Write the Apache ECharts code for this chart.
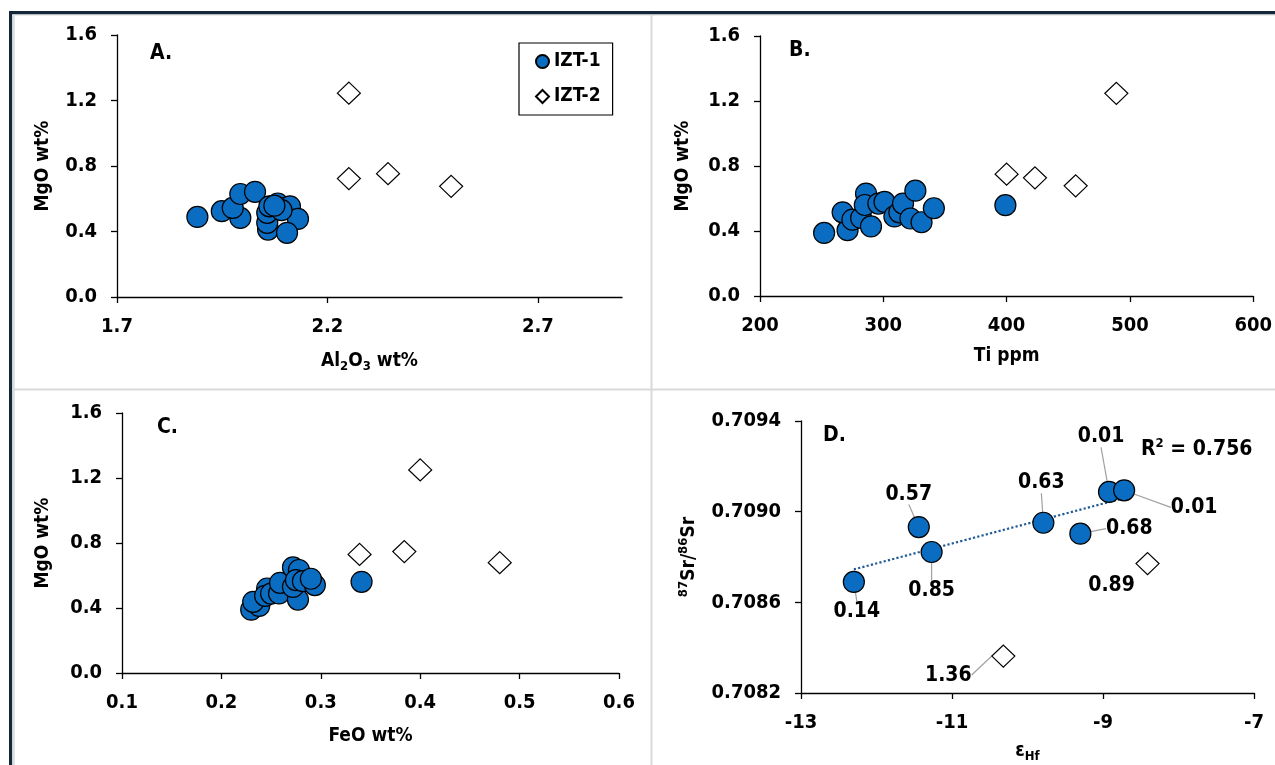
<!DOCTYPE html>
<html lang="en">
<head>
<meta charset="UTF-8">
<title>IZT-1 / IZT-2 scatter panels</title>
<style>
  html, body { margin: 0; padding: 0; background: #fff; }
  #main { width: 1275px; height: 765px; }
</style>
</head>
<body>
<div id="main"></div>
<script src="https://cdn.jsdelivr.net/npm/echarts@6/dist/echarts.min.js"></script>
<script>
// ---- data ----
// A. Al2O3 vs MgO
var aIzt1Al2O3 = [1.891, 1.949, 1.993, 1.975, 1.993, 2.028, 2.059, 2.057, 2.057, 2.062, 2.082, 2.101, 2.111, 2.130, 2.104, 2.091, 2.074];
var aIzt1MgO   = [0.489, 0.524, 0.483, 0.544, 0.629, 0.642, 0.412, 0.453, 0.514, 0.554, 0.571, 0.544, 0.554, 0.477, 0.392, 0.530, 0.558];
var aIzt2Al2O3 = [2.251, 2.251, 2.344, 2.494];
var aIzt2MgO   = [1.245, 0.723, 0.753, 0.676];

// B. Ti vs MgO
var bIzt1Ti  = [252, 271, 267, 275, 282, 286, 285, 290, 296, 301, 309, 313, 316, 322, 326, 331, 341, 399];
var bIzt1MgO = [0.388, 0.405, 0.515, 0.470, 0.480, 0.630, 0.560, 0.428, 0.569, 0.579, 0.490, 0.515, 0.569, 0.477, 0.648, 0.454, 0.540, 0.559];
var bIzt2Ti  = [400, 423, 456, 489];
var bIzt2MgO = [0.750, 0.727, 0.678, 1.247];

// C. FeO vs MgO
var cIzt1FeO = [0.230, 0.238, 0.232, 0.246, 0.244, 0.250, 0.258, 0.259, 0.272, 0.278, 0.277, 0.272, 0.275, 0.282, 0.294, 0.290, 0.341];
var cIzt1MgO = [0.390, 0.413, 0.438, 0.520, 0.475, 0.489, 0.490, 0.555, 0.650, 0.634, 0.452, 0.530, 0.572, 0.565, 0.541, 0.580, 0.561];
var cIzt2FeO = [0.339, 0.384, 0.400, 0.480];
var cIzt2MgO = [0.730, 0.747, 1.250, 0.679];

// D. eHf vs 87Sr/86Sr, with point annotations
var dIzt1Hf = [-12.30, -11.44, -11.27, -9.79, -9.30, -8.92, -8.72];
var dIzt1Sr = [0.708690, 0.708932, 0.708822, 0.708951, 0.708903, 0.709087, 0.709094];
var dIzt1Labels = ['0.14', '0.57', '0.85', '0.63', '0.68', '0.01', '0.01'];
var dIzt2Hf = [-8.41, -10.32];
var dIzt2Sr = [0.708771, 0.708363];
var dIzt2Labels = ['0.89', '1.36'];
var dR2Text = '0.756';

// tick labels
var mgoTicks = [0, 0.4, 0.8, 1.2, 1.6];
var al2o3Ticks = [1.7, 2.2, 2.7];
var tiTicks = [200, 300, 400, 500, 600];
var feoTicks = [0.1, 0.2, 0.3, 0.4, 0.5, 0.6];
var hfTicks = [-13, -11, -9, -7];
var srTicks = [0.7082, 0.7086, 0.7090, 0.7094];

// label offsets (px) for panel D annotations, and whether a leader line is drawn
var dShift1 = [[3, 30], [-10, -33], [0, 39], [-2, -40], [49, -5], [-8, -55], [70, 17]];
var dShift2 = [[-36, 22], [-55, 19]];
var dLine2 = [false, true];

var FONT = "'Liberation Sans Narrow', 'Arial Narrow', 'DejaVu Sans Condensed', sans-serif";
var BLUE = { color: '#0b6dc2', borderColor: '#000', borderWidth: 1.2, opacity: 1 };
var WHITE = { color: '#fff', borderColor: '#000', borderWidth: 1.2, opacity: 1 };

function tok(size, extra) {
  var t = { fontFamily: FONT, fontWeight: 'bold', fontSize: size, color: '#000' };
  for (var k in extra) t[k] = extra[k];
  return t;
}
var RICH = {
  n: tok(19, { lineHeight: 24 }),
  s: tok(13, { lineHeight: 12, verticalAlign: 'bottom' }),
  p: tok(13, { lineHeight: 12, verticalAlign: 'top' })
};

function pairs(xs, ys) {
  return xs.map(function (x, i) { return [x, ys[i]]; });
}

// least squares trend through the IZT-1 points of panel D
function trend(xs, ys) {
  var n = xs.length, mx = 0, my = 0, sxy = 0, sxx = 0;
  for (var i = 0; i < n; i++) { mx += xs[i] / n; my += ys[i] / n; }
  for (var j = 0; j < n; j++) { sxy += (xs[j] - mx) * (ys[j] - my); sxx += (xs[j] - mx) * (xs[j] - mx); }
  var b = sxy / sxx, a = my - b * mx;
  var x0 = Math.min.apply(null, xs), x1 = Math.max.apply(null, xs);
  return [[x0, a + b * x0], [x1, a + b * x1]];
}

function axis(gi, min, max, ticks, digits, name, gap) {
  return {
    type: 'value', gridIndex: gi, min: min, max: max, interval: ticks[1] - ticks[0],
    name: name, nameLocation: 'middle', nameGap: gap,
    nameTextStyle: { fontFamily: FONT, fontWeight: 'bold', fontSize: 19, color: '#000', rich: RICH },
    axisLine: { show: true, onZero: false, lineStyle: { color: '#000', width: 1.3 } },
    axisTick: { show: true, length: 6, customValues: ticks, lineStyle: { color: '#000', width: 1.3 } },
    axisLabel: {
      show: true, margin: 20, customValues: ticks, showMaxLabel: true,
      fontFamily: FONT, fontWeight: 'bold', fontSize: 20, color: '#000',
      formatter: function (v) { return v.toFixed(digits); }
    },
    splitLine: { show: false }
  };
}

function dots(gi, xs, ys, blue) {
  return {
    type: 'scatter', name: blue ? 'IZT-1' : 'IZT-2', xAxisIndex: gi, yAxisIndex: gi,
    data: pairs(xs, ys), symbol: blue ? 'circle' : 'diamond',
    symbolSize: blue ? 21 : [23, 22], itemStyle: blue ? BLUE : WHITE, z: blue ? 3 : 2
  };
}

function annotated(s, labels, shifts, lineFlags) {
  s.data = s.data.map(function (d, i) {
    return { value: d, labelLine: { show: lineFlags ? lineFlags[i] : true } };
  });
  s.label = {
    show: true, position: 'inside', fontFamily: FONT, fontWeight: 'bold', fontSize: 21, color: '#000',
    formatter: function (p) { return labels[p.dataIndex]; }
  };
  s.labelLine = { show: true, lineStyle: { color: '#a0a0a0', width: 1.2 } };
  s.labelLayout = function (p) { return { dx: shifts[p.dataIndex][0], dy: shifts[p.dataIndex][1] }; };
  return s;
}

function panelTitle(t, l, top) {
  return { text: t, left: l, top: top, padding: 0,
    textStyle: { fontFamily: FONT, fontWeight: 'bold', fontSize: 21, color: '#000' } };
}

var myChart = echarts.init(document.getElementById('main'));

var option = {
  animation: false,
  backgroundColor: '#fff',
  textStyle: { fontFamily: FONT },
  title: [
    panelTitle('A.', 150, 43),
    panelTitle('B.', 789, 40),
    panelTitle('C.', 157, 417),
    panelTitle('D.', 823, 425),
    { text: '{n|R}{p|2}{n| = ' + dR2Text + '}', left: 1141, top: 437, padding: 0,
      textStyle: { rich: { n: tok(21, { lineHeight: 26 }), p: tok(13, { lineHeight: 12, verticalAlign: 'top' }) } } }
  ],
  legend: {
    data: [{ name: 'IZT-1', icon: 'circle' }, { name: 'IZT-2', icon: 'diamond' }],
    orient: 'vertical', left: 519, top: 43, padding: [9, 12, 9, 16], itemGap: 16,
    itemWidth: 13, itemHeight: 13, selectedMode: false,
    borderColor: '#000', borderWidth: 1.2,
    textStyle: { fontFamily: FONT, fontWeight: 'bold', fontSize: 19, color: '#000' }
  },
  grid: [
    { left: 117, top: 35, width: 505, height: 262 },
    { left: 760, top: 36, width: 498, height: 260 },
    { left: 122, top: 413, width: 497, height: 260 },
    { left: 801, top: 421, width: 453, height: 272 }
  ],
  xAxis: [
    axis(0, 1.7, 2.9, al2o3Ticks, 1, '{n|Al}{s|2}{n|O}{s|3}{n| wt%}', 52),
    axis(1, 200, 600, tiTicks, 0, 'Ti ppm', 51),
    axis(2, 0.1, 0.6, feoTicks, 1, 'FeO wt%', 54),
    axis(3, -13, -7, hfTicks, 0, '{n|ε}{s|Hf}', 46)
  ],
  yAxis: [
    axis(0, 0, 1.6, mgoTicks, 1, 'MgO wt%', 64),
    axis(1, 0, 1.6, mgoTicks, 1, 'MgO wt%', 67),
    axis(2, 0, 1.6, mgoTicks, 1, 'MgO wt%', 69),
    axis(3, 0.7082, 0.7094, srTicks, 4, '{p|87}{n|Sr/}{p|86}{n|Sr}', 100)
  ],
  series: [
    dots(0, aIzt1Al2O3, aIzt1MgO, true),
    dots(0, aIzt2Al2O3, aIzt2MgO, false),
    dots(1, bIzt1Ti, bIzt1MgO, true),
    dots(1, bIzt2Ti, bIzt2MgO, false),
    dots(2, cIzt1FeO, cIzt1MgO, true),
    dots(2, cIzt2FeO, cIzt2MgO, false),
    {
      type: 'line', xAxisIndex: 3, yAxisIndex: 3, data: trend(dIzt1Hf, dIzt1Sr),
      symbol: 'none', silent: true, z: 1,
      lineStyle: { color: '#1f5b96', width: 2.2, type: 'dotted' }
    },
    annotated(dots(3, dIzt1Hf, dIzt1Sr, true), dIzt1Labels, dShift1),
    annotated(dots(3, dIzt2Hf, dIzt2Sr, false), dIzt2Labels, dShift2, dLine2)
  ],
  graphic: [
    // page frame and panel dividers
    { type: 'rect', shape: { x: 9, y: 11, width: 1266, height: 3.5 }, style: { fill: '#13263a' }, silent: true },
    { type: 'rect', shape: { x: 9, y: 11, width: 3.3, height: 754 }, style: { fill: '#13263a' }, silent: true },
    { type: 'rect', shape: { x: 12.3, y: 14.5, width: 2.5, height: 751 }, style: { fill: '#dcdcdc' }, silent: true },
    { type: 'rect', shape: { x: 12.3, y: 14.5, width: 1263, height: 1.2 }, style: { fill: '#e4e4e4' }, silent: true },
    { type: 'rect', shape: { x: 650.5, y: 15, width: 2, height: 750 }, style: { fill: '#d9d9d9' }, silent: true },
    { type: 'rect', shape: { x: 12, y: 388.5, width: 1263, height: 2 }, style: { fill: '#d9d9d9' }, silent: true }
  ]
};

myChart.setOption(option);
</script>
</body>
</html>
